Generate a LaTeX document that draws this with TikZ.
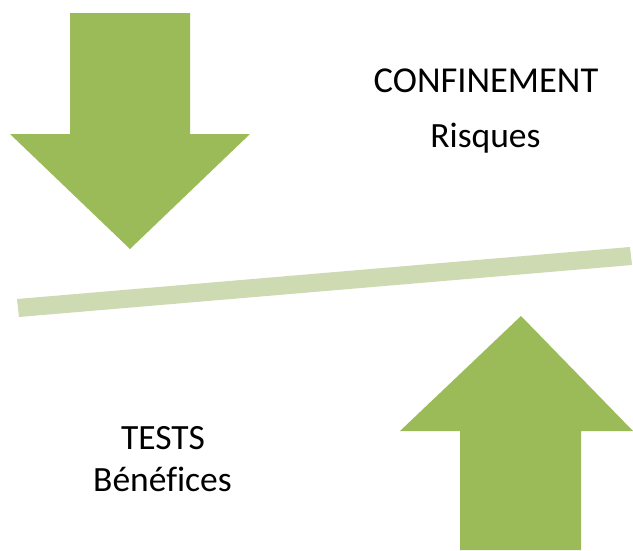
\documentclass[tikz,border=0pt]{standalone}
\usepackage{fontspec}
\setmainfont[Ligatures=NoCommon]{Carlito}
\definecolor{arrowgreen}{RGB}{155,187,89}
\definecolor{beamgreen}{RGB}{205,218,178}
\tikzset{bigarrow/.style={fill=arrowgreen,draw=none},beam/.style={fill=beamgreen,draw=none},lbl/.style={font=\fontsize{35.5pt}{42pt}\selectfont,text=black,inner sep=0pt}}
\begin{document}
\begin{tikzpicture}[x=1pt,y=-1pt]
\useasboundingbox (0,0) rectangle (633,550);
\fill[bigarrow] (70,13)--(190,13)--(190,134)--(250,134)--(130,249)--(10,134)--(70,134)--cycle;
\fill[bigarrow] (521,316)--(633,431)--(581,431)--(581,550)--(460,550)--(460,431)--(400,431)--cycle;
\fill[beam] (17,299)--(630,247)--(632,265)--(19,317)--cycle;
\node[lbl,font=\fontsize{36.5pt}{42pt}\selectfont] (conf) at (486,81) {CONFINEMENT};
\node[lbl] (risq) at (485.5,138) {Risques};
\node[lbl] (tests) at (163,438) {TESTS};
\node[lbl] (bene) at (162.5,479) {Bénéfices};
\end{tikzpicture}
\end{document}
